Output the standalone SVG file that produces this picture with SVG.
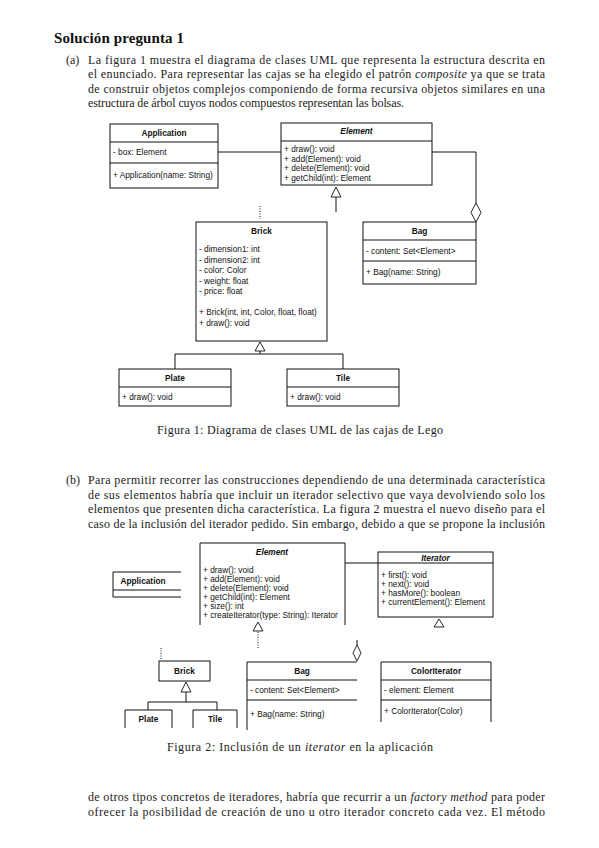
<svg xmlns="http://www.w3.org/2000/svg" width="599" height="848" viewBox="0 0 599 848">
<style>
.p{font-family:"Liberation Serif",serif;font-size:12px;fill:#222}
.h{font-family:"Liberation Serif",serif;font-size:15px;font-weight:bold;fill:#111}
.u{font-family:"Liberation Sans",Arial,sans-serif;font-size:8.3px;fill:#111}
.ub{font-family:"Liberation Sans",Arial,sans-serif;font-size:8.3px;font-weight:bold;fill:#111;text-anchor:middle}
.it{font-style:italic}
.box{fill:#fff;stroke:#111;stroke-width:1}
.ln{fill:none;stroke:#111;stroke-width:1}
.tri{fill:#fff;stroke:#111;stroke-width:0.9}
.dot{fill:none;stroke:#111;stroke-width:1;stroke-dasharray:1 1.5}
</style>
<rect width="599" height="848" fill="#fff"/>
<g id="text-a">
<text class="h" x="54" y="43" textLength="130" lengthAdjust="spacing">Solución pregunta 1</text>
<text class="p" x="66" y="63.5">(a)</text>
<text class="p" x="88" y="63.5" textLength="457" lengthAdjust="spacing">La figura 1 muestra el diagrama de clases UML que representa la estructura descrita en</text>
<text class="p" x="88" y="78" textLength="457" lengthAdjust="spacing">el enunciado. Para representar las cajas se ha elegido el patrón <tspan class="it">composite</tspan> ya que se trata</text>
<text class="p" x="88" y="92.5" textLength="457" lengthAdjust="spacing">de construir objetos complejos componiendo de forma recursiva objetos similares en una</text>
<text class="p" x="88" y="107" textLength="316" lengthAdjust="spacing">estructura de árbol cuyos nodos compuestos representan las bolsas.</text>
</g>
<g id="fig1-connectors">
<path class="ln" d="M218,152 H281"/>
<path class="ln" d="M432,152 H476 V203"/>
<path class="tri" d="M476,203 L481,212.5 L476,222 L471,212.5 Z"/>
<path class="tri" d="M336,187 L341,197 L331,197 Z"/>
<path class="ln" d="M336,197 V212"/>
<path class="dot" d="M260,206 V219"/>
<path class="tri" d="M260,342 L265,351 L255,351 Z"/>
<path class="ln" d="M260,351 V354 M175,369 V354 H343 V369"/>
</g>
<g id="fig1-application">
<rect class="box" x="110" y="124" width="108" height="64"/>
<path class="ln" d="M110,142 H218 M110,163 H218"/>
<text class="ub" x="164" y="136">Application</text>
<text class="u" x="113" y="155">- box: Element</text>
<text class="u" x="113" y="178">+ Application(name: String)</text>
</g>
<g id="fig1-element">
<rect class="box" x="281" y="123" width="151" height="62"/>
<path class="ln" d="M281,141 H432"/>
<text class="ub it" x="356.5" y="134">Element</text>
<text class="u" x="284" y="152">+ draw(): void</text>
<text class="u" x="284" y="161.5">+ add(Element): void</text>
<text class="u" x="284" y="171">+ delete(Element): void</text>
<text class="u" x="284" y="180.5">+ getChild(int): Element</text>
</g>
<g id="fig1-bag">
<rect class="box" x="363" y="222" width="113" height="62"/>
<path class="ln" d="M363,240 H476 M363,261 H476"/>
<text class="ub" x="419.5" y="234">Bag</text>
<text class="u" x="366" y="253.5">- content: Set&lt;Element&gt;</text>
<text class="u" x="366" y="275">+ Bag(name: String)</text>
</g>
<g id="fig1-brick">
<rect class="box" x="196" y="222" width="131" height="119"/>
<text class="ub" x="261.5" y="234">Brick</text>
<text class="u" x="199" y="252">- dimension1: int</text>
<text class="u" x="199" y="262.5">- dimension2: int</text>
<text class="u" x="199" y="273">- color: Color</text>
<text class="u" x="199" y="283.5">- weight: float</text>
<text class="u" x="199" y="294">- price: float</text>
<text class="u" x="199" y="315">+ Brick(int, int, Color, float, float)</text>
<text class="u" x="199" y="325.5">+ draw(): void</text>
</g>
<g id="fig1-plate">
<rect class="box" x="119" y="369" width="112" height="37"/>
<path class="ln" d="M119,387 H231"/>
<text class="ub" x="175" y="381">Plate</text>
<text class="u" x="122" y="400">+ draw(): void</text>
</g>
<g id="fig1-tile">
<rect class="box" x="287" y="369" width="112" height="37"/>
<path class="ln" d="M287,387 H399"/>
<text class="ub" x="343" y="381">Tile</text>
<text class="u" x="290" y="400">+ draw(): void</text>
</g>
<text class="p" x="157" y="434" textLength="286" lengthAdjust="spacing">Figura 1: Diagrama de clases UML de las cajas de Lego</text>
<g id="text-b">
<text class="p" x="66" y="484">(b)</text>
<text class="p" x="88" y="484" textLength="457" lengthAdjust="spacing">Para permitir recorrer las construcciones dependiendo de una determinada característica</text>
<text class="p" x="88" y="498.5" textLength="457" lengthAdjust="spacing">de sus elementos habría que incluir un iterador selectivo que vaya devolviendo solo los</text>
<text class="p" x="88" y="513" textLength="457" lengthAdjust="spacing">elementos que presenten dicha característica. La figura 2 muestra el nuevo diseño para el</text>
<text class="p" x="88" y="527.5" textLength="457" lengthAdjust="spacing">caso de la inclusión del iterador pedido. Sin embargo, debido a que se propone la inclusión</text>
</g>
<g id="fig2-connectors">
<path class="ln" d="M345,563 H378"/>
<path class="tri" d="M258,622 L263,631 L253,631 Z"/>
<path class="dot" d="M258,632 V649"/>
<path class="dot" d="M161,648 V660"/>
<path class="tri" d="M186,682 L191,692 L181,692 Z"/>
<path class="ln" d="M186,692 V702 M148,710 V702 H217 V710"/>
<path class="ln" d="M357,640 V645"/>
<path class="tri" d="M357,645 L361,653 L357,661 L353,653 Z"/>
<path class="tri" d="M439,619 L444,627 L434,627 Z"/>
</g>
<g id="fig2-application">
<path class="ln" d="M181,572 H113 V597 H181 M113,590 H181"/>
<text class="ub" x="143" y="584">Application</text>
</g>
<g id="fig2-element">
<path class="ln" d="M200,625 V543 H345 V625"/>
<text class="ub it" x="272" y="555">Element</text>
<text class="u" x="203" y="572.5">+ draw(): void</text>
<text class="u" x="203" y="581.5">+ add(Element): void</text>
<text class="u" x="203" y="590.5">+ delete(Element): void</text>
<text class="u" x="203" y="599.5">+ getChild(int): Element</text>
<text class="u" x="203" y="608.5">+ size(): int</text>
<text class="u" x="203" y="617.5">+ createIterator(type: String): Iterator</text>
</g>
<g id="fig2-iterator">
<rect class="box" x="378" y="552" width="115" height="65"/>
<path class="ln" d="M378,563 H493"/>
<text class="ub it" x="435.5" y="561">Iterator</text>
<text class="u" x="381" y="578">+ first(): void</text>
<text class="u" x="381" y="587">+ next(): void</text>
<text class="u" x="381" y="596">+ hasMore(): boolean</text>
<text class="u" x="381" y="605">+ currentElement(): Element</text>
</g>
<g id="fig2-brick">
<rect class="box" x="159" y="661" width="51" height="20"/>
<text class="ub" x="184.5" y="674">Brick</text>
</g>
<g id="fig2-plate">
<path class="ln" d="M125,728 V710 H172 V728"/>
<text class="ub" x="148.5" y="722">Plate</text>
</g>
<g id="fig2-tile">
<path class="ln" d="M193,728 V710 H237 V728"/>
<text class="ub" x="215" y="722">Tile</text>
</g>
<g id="fig2-bag">
<path class="ln" d="M247,730 V662 H357 M247,680 H357 M247,700 H357"/>
<text class="ub" x="302" y="674">Bag</text>
<text class="u" x="250" y="693">- content: Set&lt;Element&gt;</text>
<text class="u" x="250" y="717">+ Bag(name: String)</text>
</g>
<g id="fig2-coloriterator">
<path class="ln" d="M381,722 V662 H491 V722 M381,680 H491 M381,700 H491"/>
<text class="ub" x="436" y="674">ColorIterator</text>
<text class="u" x="384" y="693">- element: Element</text>
<text class="u" x="384" y="714">+ ColorIterator(Color)</text>
</g>
<text class="p" x="167" y="751" textLength="266" lengthAdjust="spacing">Figura 2: Inclusión de un <tspan class="it">iterator</tspan> en la aplicación</text>
<g id="text-c">
<text class="p" x="88" y="801" textLength="457" lengthAdjust="spacing">de otros tipos concretos de iteradores, habría que recurrir a un <tspan class="it">factory method</tspan> para poder</text>
<text class="p" x="88" y="815.5" textLength="457" lengthAdjust="spacing">ofrecer la posibilidad de creación de uno u otro iterador concreto cada vez. El método</text>
</g>
</svg>
